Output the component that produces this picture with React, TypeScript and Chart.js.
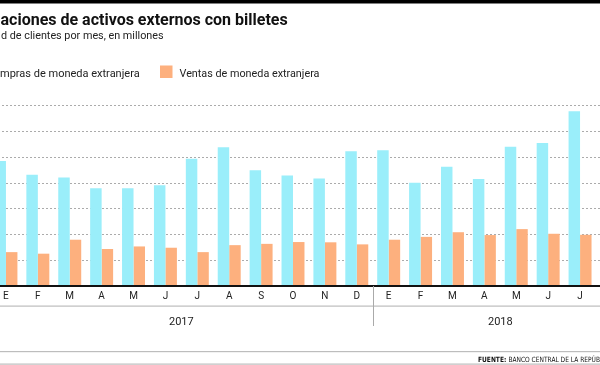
import React, { useEffect, useRef } from 'react';
import { Chart, registerables } from 'chart.js';

Chart.register(...registerables);

const months = ['E', 'F', 'M', 'A', 'M', 'J', 'J', 'A', 'S', 'O', 'N', 'D', 'E', 'F', 'M', 'A', 'M', 'J', 'J'];
const years = [
  { label: '2017', from: 0, to: 11 },
  { label: '2018', from: 12, to: 19 },
];
const compras = [4.83, 4.3, 4.2, 3.78, 3.78, 3.9, 4.92, 5.37, 4.48, 4.27, 4.16, 5.21, 5.25, 3.99, 4.61, 4.14, 5.39, 5.53, 6.76];
const ventas = [1.31, 1.25, 1.79, 1.43, 1.53, 1.48, 1.31, 1.58, 1.63, 1.7, 1.69, 1.61, 1.79, 1.9, 2.08, 1.97, 2.2, 2.02, 1.98];
const yTicks = [1, 2, 3, 4, 5, 6, 7];

const titleText = 'aciones de activos externos con billetes';
const subtitleText = 'd de clientes por mes, en millones';
const legendCompras = 'mpras de moneda extranjera';
const legendVentas = 'Ventas de moneda extranjera';
const sourceBold = 'FUENTE:';
const sourceText = 'BANCO CENTRAL DE LA REPÚBLICA ARGENTINA';

const BLUE = '#9aeefa';
const ORANGE = '#fdb07e';
const OFF = 10;
const CW = 620;
const CH = 365;
const SRC_FONT = "'Liberation Sans Narrow', 'DejaVu Sans Condensed', 'Liberation Sans', sans-serif";

const deco = {
  id: 'deco',
  beforeDatasetsDraw(chart: any) {
    const { ctx, scales } = chart;
    const y = scales.y;
    ctx.save();
    ctx.strokeStyle = '#ababab';
    ctx.lineWidth = 1;
    ctx.setLineDash([2, 2]);
    for (const v of yTicks) {
      const py = Math.round(y.getPixelForValue(v)) + 0.5;
      ctx.beginPath();
      ctx.moveTo(0, py);
      ctx.lineTo(CW, py);
      ctx.stroke();
    }
    ctx.restore();
  },
  afterDatasetsDraw(chart: any) {
    const { ctx, scales } = chart;
    const x = scales.x;
    const y = scales.y;
    const base = y.getPixelForValue(0);
    ctx.save();
    ctx.fillStyle = '#111';
    ctx.fillRect(0, base - 1, CW, 2);

    ctx.fillStyle = '#222';
    ctx.font = '10px Roboto';
    ctx.textAlign = 'center';
    ctx.textBaseline = 'middle';
    months.forEach((m, i) => {
      ctx.fillText(m, x.getPixelForValue(i), 296);
    });

    ctx.fillStyle = '#bdbdbd';
    ctx.fillRect(0, 305.5, CW, 1.2);

    ctx.strokeStyle = '#aaaaaa';
    ctx.lineWidth = 1;
    years.forEach((yr, k) => {
      if (k === 0) return;
      const sx = Math.round((x.getPixelForValue(yr.from - 1) + x.getPixelForValue(yr.from)) / 2) + 0.5;
      ctx.beginPath();
      ctx.moveTo(sx, base);
      ctx.lineTo(sx, 326);
      ctx.stroke();
    });

    ctx.fillStyle = '#222';
    ctx.font = '11px Roboto';
    years.forEach((yr) => {
      const cx = (x.getPixelForValue(yr.from) + x.getPixelForValue(yr.to)) / 2;
      ctx.fillText(yr.label, cx, 322);
    });

    ctx.fillStyle = '#bdbdbd';
    ctx.fillRect(0, 351, CW, 1.2);
    ctx.fillRect(0, 363.5, CW, 1.2);
    ctx.restore();
  },
  afterDraw(chart: any) {
    const { ctx } = chart;
    ctx.save();
    ctx.translate(OFF, 0);
    ctx.fillStyle = '#000';
    ctx.fillRect(-OFF, 0, CW, 3.5);

    ctx.textAlign = 'left';
    ctx.textBaseline = 'alphabetic';
    ctx.fillStyle = '#111';
    ctx.font = 'bold 16px Roboto';
    ctx.fillText(titleText, 0.5, 25);

    ctx.fillStyle = '#222';
    ctx.font = '10.8px Roboto';
    ctx.fillText(subtitleText, 1, 38.5);

    ctx.font = '11px Roboto';
    ctx.fillText(legendCompras, 0, 77);
    ctx.fillStyle = ORANGE;
    ctx.fillRect(160, 65.5, 12.5, 12.5);
    ctx.fillStyle = '#222';
    ctx.font = '10.8px Roboto';
    ctx.fillText(legendVentas, 179.5, 77);

    // source line, condensed horizontally so that "FUENTE: BANCO CENTRAL DE LA REPÚB" spans ~122px
    ctx.font = `bold 7.2px ${SRC_FONT}`;
    const bw = ctx.measureText(sourceBold + ' ').width;
    ctx.font = `7.2px ${SRC_FONT}`;
    const pw = ctx.measureText('BANCO CENTRAL DE LA REPÚB').width;
    const sx = 122 / (bw + pw);
    ctx.translate(478, 361.5);
    ctx.scale(Math.min(1, sx), 1);
    ctx.fillStyle = '#111';
    ctx.font = `bold 7.2px ${SRC_FONT}`;
    ctx.fillText(sourceBold, 0, 0);
    ctx.font = `7.2px ${SRC_FONT}`;
    ctx.fillText(sourceText, bw, 0);
    ctx.restore();
  },
};

export default function App() {
  const ref = useRef<HTMLCanvasElement | null>(null);
  useEffect(() => {
    if (!ref.current) return;
    const chart = new Chart(ref.current, {
      type: 'bar',
      data: {
        labels: months,
        datasets: [
          { label: 'Compras de moneda extranjera', data: compras, backgroundColor: BLUE, borderWidth: 0, categoryPercentage: 0.72, barPercentage: 1 },
          { label: 'Ventas de moneda extranjera', data: ventas, backgroundColor: ORANGE, borderWidth: 0, categoryPercentage: 0.72, barPercentage: 1 },
        ],
      },
      options: {
        responsive: false,
        animation: false,
        devicePixelRatio: 1,
        layout: { padding: { left: 0, right: 14, top: 105, bottom: 79 } },
        plugins: { legend: { display: false }, title: { display: false }, tooltip: { enabled: false } },
        scales: {
          x: { display: false, offset: true },
          y: { display: false, min: 0, max: 7 },
        },
      },
      plugins: [deco],
    });
    return () => chart.destroy();
  }, []);
  return (
    <div style={{ position: 'fixed', left: 0, top: 0, width: 600, height: 365, overflow: 'hidden', background: '#fff' }}>
      <canvas ref={ref} width={CW} height={CH} style={{ position: 'absolute', left: -OFF, top: 0, width: CW, height: CH }} />
    </div>
  );
}
